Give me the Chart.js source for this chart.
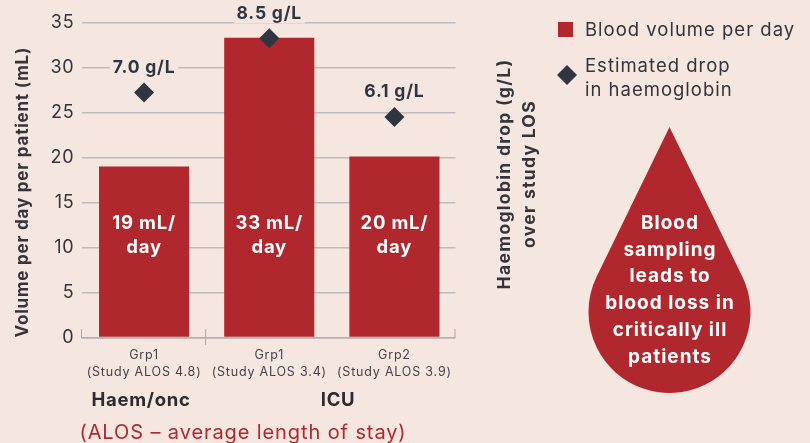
<!DOCTYPE html>
<html>
<head>
<meta charset="utf-8">
<title>Blood sampling</title>
<script src="https://cdn.jsdelivr.net/npm/chart.js@4"></script>
<style>
    html, body { margin: 0; padding: 0; background: #f6e6e0; }
    #wrap { width: 810px; height: 443px; overflow: hidden; }
</style>
</head>
<body>
<div id="wrap"><canvas id="bloodChart" width="810" height="443"></canvas></div>
<script>
const categories = [['Grp1', '(Study ALOS 4.8)'], ['Grp1', '(Study ALOS 3.4)'], ['Grp2', '(Study ALOS 3.9)']];
const bloodVolume = [19, 33.3, 20.1];
const hbDrop = [7.0, 8.55, 6.3];
const barLabels = [['19 mL/', 'day'], ['33 mL/', 'day'], ['20 mL/', 'day']];
const hbLabels = ['7.0 g/L', '8.5 g/L', '6.1 g/L'];
const dropLines = ['Blood', 'sampling', 'leads to', 'blood loss in', 'critically ill', 'patients'];

const FONT = 'Inter, sans-serif';
const BG = '#f6e6e0';
const RED = '#b0282d';
const NAVY = '#2f3642';
const TEXT = '#34343a';
const GRID = '#bdbbbd';
const AXIS_END = 455; // axis line stops just short of the plot area

function text(ctx, str, x, y, font, color, align, spacing) {
    ctx.font = font;
    ctx.letterSpacing = (spacing || 0.8) + 'px';
    ctx.fillStyle = color;
    ctx.textAlign = align || 'left';
    ctx.textBaseline = 'middle';
    ctx.fillText(str, x, y);
}

// Everything Chart.js has no option for: labels on the marks, axis ends, legend, drop
const annotations = {
    id: 'annotations',
    beforeDraw(chart) {
        // the original face is wider than Inter, open it up for ticks and titles too
        chart.ctx.letterSpacing = '0.8px';
    },
    beforeDatasetsDraw(chart) {
        // trim gridlines back to the axis end
        chart.ctx.fillStyle = BG;
        chart.ctx.fillRect(AXIS_END + 0.5, 0, 4, chart.chartArea.bottom + 2);
    },
    afterDatasetsDraw(chart) {
        const ctx = chart.ctx;
        const x = chart.scales.x;
        const bottom = chart.chartArea.bottom + 0.5;
        const left = chart.chartArea.left;
        ctx.save();

        // axis end ticks and group divider
        ctx.strokeStyle = '#a9a9ae';
        ctx.lineWidth = 1;
        ctx.beginPath();
        ctx.moveTo(left, bottom - 9);
        ctx.lineTo(left, bottom);
        ctx.lineTo(AXIS_END, bottom);
        ctx.lineTo(AXIS_END, bottom - 9);
        const divider = (x.getPixelForValue(0) + x.getPixelForValue(1)) / 2 - 1;
        ctx.moveTo(divider, bottom - 9);
        ctx.lineTo(divider, bottom + 7);
        ctx.stroke();

        // labels inside the bars
        chart.getDatasetMeta(1).data.forEach((bar, i) => {
            text(ctx, barLabels[i][0], bar.x, 223, 'bold 18.5px ' + FONT, '#ffffff', 'center');
            text(ctx, barLabels[i][1], bar.x, 247, 'bold 18.5px ' + FONT, '#ffffff', 'center');
        });

        // labels over the diamonds, masking the gridline behind them
        chart.getDatasetMeta(0).data.forEach((pt, i) => {
            const font = 'bold 17.5px ' + FONT;
            ctx.font = font;
            ctx.letterSpacing = '0.8px';
            const w = ctx.measureText(hbLabels[i]).width;
            ctx.fillStyle = BG;
            ctx.fillRect(pt.x - w / 2 - 3, pt.y - 33, w + 6, 18);
            text(ctx, hbLabels[i], pt.x, pt.y - 25, font, NAVY, 'center');
        });

        // right axis title reads bottom to top, Chart.js would turn it the other way
        ctx.save();
        ctx.translate(505, 174);
        ctx.rotate(-Math.PI / 2);
        text(ctx, 'Haemoglobin drop (g/L)', 0, 0, 'bold 17.5px ' + FONT, TEXT, 'center', 1.3);
        text(ctx, 'over study LOS', 0, 25, 'bold 17.5px ' + FONT, TEXT, 'center', 1.3);
        ctx.restore();

        // group names and footnote
        text(ctx, 'Haem/onc', 141, 400, 'bold 18.5px ' + FONT, '#2b2b30', 'center', 0.7);
        text(ctx, 'ICU', 338, 400, 'bold 18.5px ' + FONT, '#2b2b30', 'center', 0.7);
        text(ctx, '(ALOS \u2013 average length of stay)', 243, 433, '20px ' + FONT, RED, 'center', 0.9);

        // legend
        ctx.fillStyle = RED;
        ctx.fillRect(558, 22, 15, 15);
        text(ctx, 'Blood volume per day', 585, 30, '18.5px ' + FONT, TEXT, 'left', 1);
        ctx.fillStyle = NAVY;
        ctx.beginPath();
        ctx.moveTo(567, 65);
        ctx.lineTo(577, 75);
        ctx.lineTo(567, 85);
        ctx.lineTo(557, 75);
        ctx.closePath();
        ctx.fill();
        text(ctx, 'Estimated drop', 585, 66, '18.5px ' + FONT, TEXT, 'left', 1);
        text(ctx, 'in haemoglobin', 585, 90, '18.5px ' + FONT, TEXT, 'left', 1);

        // blood drop: straight sides from the tip, tangent to a circle
        const tangent = 26 * Math.PI / 180;
        ctx.fillStyle = RED;
        ctx.beginPath();
        ctx.moveTo(669.5, 127);
        ctx.arc(669.5, 312, 81, -tangent, Math.PI + tangent);
        ctx.closePath();
        ctx.fill();
        dropLines.forEach((line, i) => {
            text(ctx, line, 670, 223 + i * 26.8, 'bold 19px ' + FONT, '#ffffff', 'center', 1);
        });
        ctx.restore();
    }
};

new Chart(document.getElementById('bloodChart'), {
    type: 'bar',
    data: {
        labels: categories,
        datasets: [
            {
                type: 'line',
                label: 'Estimated drop in haemoglobin',
                data: hbDrop,
                yAxisID: 'yRight',
                showLine: false,
                pointStyle: 'rectRot',
                pointRadius: 10,
                pointHoverRadius: 10,
                pointBackgroundColor: NAVY,
                pointBorderWidth: 0,
                order: 0
            },
            {
                label: 'Blood volume per day',
                data: bloodVolume,
                yAxisID: 'y',
                backgroundColor: RED,
                categoryPercentage: 1,
                barPercentage: 0.72,
                order: 1
            }
        ]
    },
    options: {
        responsive: false,
        animation: false,
        layout: { padding: { top: 22.5, right: 353, bottom: 0, left: 0 } },
        plugins: { legend: { display: false }, tooltip: { enabled: false } },
        scales: {
            x: {
                grid: { display: false },
                border: { display: false },
                ticks: { color: '#44444a', font: { family: FONT, size: 12.5, lineHeight: 1.36 }, padding: 1, maxRotation: 0, autoSkip: false },
                afterFit(s) { s.height = 105.5; }
            },
            y: {
                min: 0,
                max: 35,
                afterBuildTicks(s) { s.ticks = [0, 5, 10, 15, 20, 25, 30, 35].map(v => ({ value: v })); },
                grid: { color: GRID, lineWidth: 1.5, drawTicks: false },
                border: { display: false },
                ticks: { color: TEXT, font: { family: FONT, size: 18 }, padding: 7 },
                title: { display: true, align: 'start', text: 'Volume per day per patient (mL)', color: TEXT, font: { family: FONT, size: 17, weight: 'bold' }, padding: { top: 13, bottom: 0 } },
                afterFit(s) { s.width = 81.5; }
            },
            yRight: {
                position: 'right',
                min: 0,
                max: 9,
                afterBuildTicks(s) { s.ticks = [0, 1, 2, 3, 4, 5, 6, 7, 8, 9].map(v => ({ value: v })); },
                grid: { display: false },
                border: { display: false },
                ticks: { color: TEXT, font: { family: FONT, size: 18 }, padding: 5 },
                afterFit(s) { s.width = 0; }
            }
        }
    },
    plugins: [annotations]
});
</script>
</body>
</html>
